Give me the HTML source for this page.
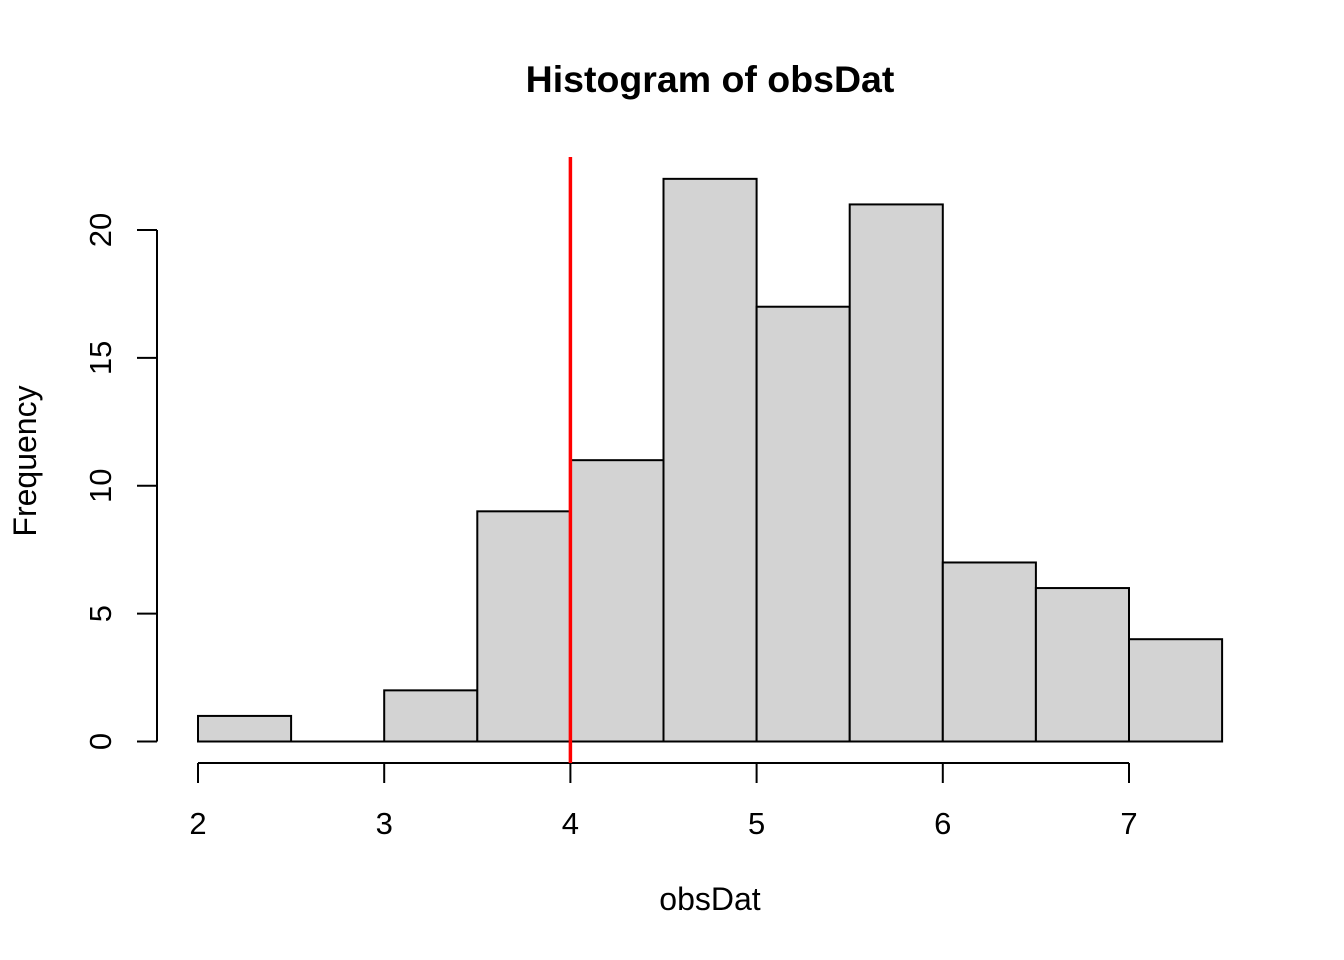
<!DOCTYPE html>
<html><head><meta charset="utf-8"><style>
html,body{margin:0;padding:0;background:#fff;}
svg{display:block;font-family:"Liberation Sans",Arial,sans-serif;}
</style></head><body>
<svg id="chart" width="1344" height="960" viewBox="0 0 1344 960" xmlns="http://www.w3.org/2000/svg">
<rect width="1344" height="960" fill="#fff"/>
<text x="710" y="92" text-anchor="middle" font-size="37.5" font-weight="bold">Histogram of obsDat</text>
<text x="710" y="910" text-anchor="middle" font-size="32">obsDat</text>
<text transform="translate(36,461) rotate(-90)" text-anchor="middle" font-size="32">Frequency</text>
<g id="bars"></g><g id="axes"></g><g id="ref"></g>
</svg>
<script>
const binStarts=[2,2.5,3,3.5,4,4.5,5,5.5,6,6.5,7];
const binWidth=0.5;
const counts=[1,0,2,9,11,22,17,21,7,6,4];
const xTicks=[2,3,4,5,6,7];
const yTicks=[0,5,10,15,20];
const refValue=4;
const NS="http://www.w3.org/2000/svg";
const xs=v=>198+(v-2)*186.2;
const ys=v=>741.5-v*25.575;
function mk(t,a,p){const e=document.createElementNS(NS,t);for(const k in a)e.setAttribute(k,a[k]);p.appendChild(e);return e;}
const bars=document.getElementById('bars');
binStarts.forEach((s,i)=>{
  const x0=xs(s),x1=xs(s+binWidth),y=ys(counts[i]);
  let r;
  if(counts[i]===0){
    r=mk('line',{x1:x0,x2:x1,y1:ys(0),y2:ys(0),stroke:'#000','stroke-width':2},bars);
  } else {
    r=mk('rect',{x:x0,y:y,width:x1-x0,height:ys(0)-y,fill:'#d3d3d3',stroke:'#000','stroke-width':2},bars);
  }
  
  
});
const axes=document.getElementById('axes');
const xa=mk('line',{x1:xs(xTicks[0]),x2:xs(xTicks[xTicks.length-1]),y1:763,y2:763,stroke:'#000','stroke-width':2},axes);


xTicks.forEach(t=>{
  mk('line',{x1:xs(t),x2:xs(t),y1:763,y2:783,stroke:'#000','stroke-width':2},axes);
  const l=mk('text',{x:xs(t),y:834,'text-anchor':'middle','font-size':31},axes);
  l.textContent=t;
  
  
});
const ya=mk('line',{x1:157,x2:157,y1:ys(yTicks[yTicks.length-1]),y2:ys(yTicks[0]),stroke:'#000','stroke-width':2},axes);


yTicks.forEach(t=>{
  mk('line',{x1:137,x2:157,y1:ys(t),y2:ys(t),stroke:'#000','stroke-width':2},axes);
  const l=mk('text',{transform:`translate(111,${ys(t)}) rotate(-90)`,'text-anchor':'middle','font-size':31},axes);
  l.textContent=t;
  
  
});
const rl=mk('line',{x1:xs(refValue),x2:xs(refValue),y1:157,y2:763,stroke:'#ff0000','stroke-width':3.5},document.getElementById('ref'));


</script>
</body></html>
